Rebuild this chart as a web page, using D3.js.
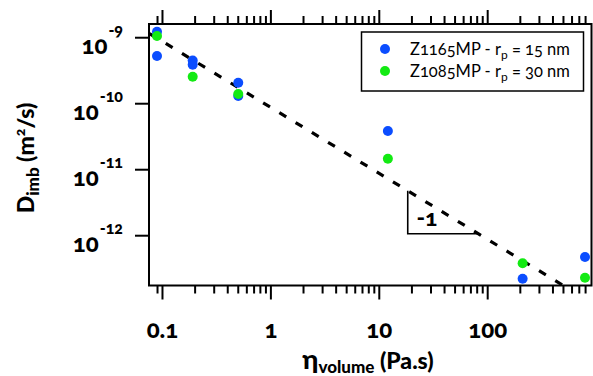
<!DOCTYPE html>
<html>
<head>
<meta charset="utf-8">
<script src="https://cdn.jsdelivr.net/npm/d3@7"></script>
<style>
  html, body { margin: 0; padding: 0; background: #fff; }
  svg { display: block; font-family: Lato, "Noto Sans", sans-serif; font-variant-numeric: oldstyle-nums; }
</style>
</head>
<body>
<svg id="chart" width="593" height="376"></svg>
<script>
// ---- data ----
const blueEta = [0.089, 0.089, 0.19, 0.19, 0.5, 0.5, 12, 210, 790];
const blueD = [1.23e-9, 5.3e-10, 4.5e-10, 3.9e-10, 2.08e-10, 1.31e-10, 3.86e-11, 2.23e-13, 4.75e-13];
const greenEta = [0.089, 0.19, 0.5, 12, 210, 790];
const greenD = [1.06e-9, 2.56e-10, 1.40e-10, 1.47e-11, 3.82e-13, 2.31e-13];
const seriesNames = ["Z1165MP - r", "Z1085MP - r"];
const seriesRadii = ["15 nm", "30 nm"];
const seriesColors = ["#0b4dff", "#13ea13"];
const fitCoef = 8.77e-11;      // D = C / eta  (slope -1)
const fitRange = [0.06, 1000];
const slopeTri = [18.3, 81.7];
const slopeLabel = "-1";
const xTickLabels = [[0.1, "0.1"], [1, "1"], [10, "10"], [100, "100"]];
const yTickExps = [-9, -10, -11, -12];

// ---- layout ----
const L = 149, R = 591.5, T = 24, B = 285.5;
const svg = d3.select("#chart");
const x = d3.scaleLog().domain([0.0751, 907]).range([L, R]);
const y = d3.scaleLog().domain([1.76e-13, 1.614e-9]).range([B, T]);

// ---- x ticks (bottom & top) ----
const allX = [];
for (let e = -2; e <= 3; e++) for (let m = 1; m <= 9; m++) allX.push(m * Math.pow(10, e));
const xt = allX.filter(v => x(v) > L + 5 && x(v) < R - 4);
const isMajor = v => Math.abs(Math.log10(v) - Math.round(Math.log10(v))) < 1e-9;
const tickG = svg.append("g");
xt.forEach(v => {
  const len = isMajor(v) ? 14 : 8;
  tickG.append("line").attr("x1", x(v)).attr("x2", x(v)).attr("y1", B).attr("y2", B + len)
    .attr("stroke", "#000").attr("stroke-width", 2);
  tickG.append("line").attr("x1", x(v)).attr("x2", x(v)).attr("y1", T).attr("y2", T - len)
    .attr("stroke", "#000").attr("stroke-width", 2);
});
xTickLabels.forEach(([v, s]) => {
  svg.append("text").attr("x", x(v)).attr("y", 338).attr("text-anchor", "middle")
    .attr("font-size", 24).attr("font-weight", 900).text(s);
});

// ---- y ticks ----
yTickExps.forEach(e => {
  const yy = y(Math.pow(10, e));
  tickG.append("line").attr("x1", L - 14).attr("x2", L).attr("y1", yy).attr("y2", yy)
    .attr("stroke", "#000").attr("stroke-width", 2);
  const t = svg.append("text").attr("x", 123).attr("y", yy + 16).attr("text-anchor", "end")
    .attr("font-weight", 900);
  t.append("tspan").attr("font-size", 24).text("10");
  t.append("tspan").attr("font-size", 16).attr("dx", 1).attr("dy", -18).text(String(e));
});

// ---- frame ----
svg.append("rect").attr("x", L).attr("y", T).attr("width", R - L).attr("height", B - T)
  .attr("fill", "none").attr("stroke", "#000").attr("stroke-width", 2);

// ---- clip ----
svg.append("clipPath").attr("id", "clip").append("rect")
  .attr("x", L).attr("y", T).attr("width", R - L).attr("height", B - T);

// ---- fit line ----
const fitPts = fitRange.map(v => [x(v), y(fitCoef / v)]);
svg.append("path").attr("clip-path", "url(#clip)")
  .attr("d", d3.line()(fitPts)).attr("fill", "none").attr("stroke", "#000")
  .attr("stroke-width", 3.2).attr("stroke-dasharray", "8,11").attr("stroke-dashoffset", 6);

// ---- slope triangle ----
const tx1 = x(slopeTri[0]), tx2 = x(slopeTri[1]);
svg.append("path").attr("d", d3.line()([[tx1, y(fitCoef / slopeTri[0])], [tx1, y(fitCoef / slopeTri[1])], [tx2, y(fitCoef / slopeTri[1])]]))
  .attr("fill", "none").attr("stroke", "#000").attr("stroke-width", 1.6);
svg.append("text").attr("x", 427).attr("y", 226).attr("text-anchor", "middle")
  .attr("font-size", 23).attr("font-weight", 900).text(slopeLabel);

// ---- points ----
const pts = svg.append("g");
blueEta.forEach((v, i) => pts.append("circle").attr("cx", x(v)).attr("cy", y(blueD[i])).attr("r", 5).attr("fill", seriesColors[0]));
greenEta.forEach((v, i) => pts.append("circle").attr("cx", x(v)).attr("cy", y(greenD[i])).attr("r", 5).attr("fill", seriesColors[1]));

// ---- legend ----
const lg = svg.append("g");
lg.append("rect").attr("x", 361.5).attr("y", 32).attr("width", 222).attr("height", 59)
  .attr("fill", "#fff").attr("stroke", "#000").attr("stroke-width", 1.5);
seriesNames.forEach((n, i) => {
  const yy = 49 + i * 22;
  lg.append("circle").attr("cx", 385).attr("cy", yy).attr("r", 5).attr("fill", seriesColors[i]);
  const t = lg.append("text").attr("x", 410).attr("y", yy + 6).attr("font-size", 16.5);
  t.append("tspan").text(n);
  t.append("tspan").attr("font-size", 12).attr("dy", 4).text("p");
  t.append("tspan").attr("dy", -4).text(" = " + seriesRadii[i]);
});

// ---- axis titles ----
const xt2 = svg.append("text").attr("x", 368).attr("y", 369).attr("text-anchor", "middle").attr("font-weight", 900);
xt2.append("tspan").attr("font-size", 27).text("η");
xt2.append("tspan").attr("font-size", 17).attr("dy", 4).text("volume");
xt2.append("tspan").attr("font-size", 23).attr("dy", -4).text(" (Pa.s)");

const yt = svg.append("text").attr("transform", "translate(34,158) rotate(-90)").attr("text-anchor", "middle").attr("font-weight", 900);
yt.append("tspan").attr("font-size", 23).text("D");
yt.append("tspan").attr("font-size", 17).attr("dy", 5).text("imb");
yt.append("tspan").attr("font-size", 23).attr("dy", -5).text(" (m");
yt.append("tspan").attr("font-size", 14).attr("dy", -9).text("2");
yt.append("tspan").attr("font-size", 23).attr("dy", 9).text("/s)");
</script>
</body>
</html>
